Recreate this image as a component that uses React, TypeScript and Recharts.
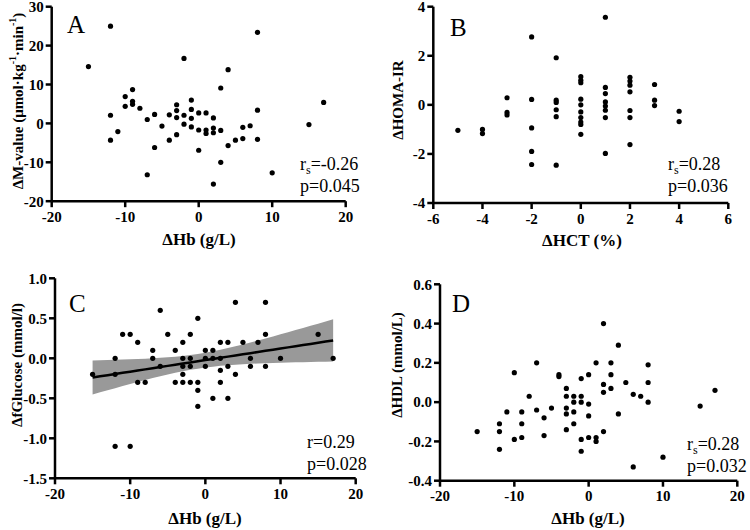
import React from 'react'
import { ScatterChart, ComposedChart, Scatter, Line, Area, XAxis, YAxis } from 'recharts'

const FONT = '"Liberation Serif", "Times New Roman", serif'
const CELL_W = 375
const CELL_H = 265
const X_AXIS_H = 40

// A: ΔHb (g/L) vs ΔM-value
const hbA = [-12, -15, -2, 8, 4, -9, -10, -9, -9, -10, -8, -12, -11, -12, -7, -6, -5, -4, -3, -3, -3, -2, -2, -1, -1, -1, -1, 0, 0, 1, 1, 1, 2, 2, 2, 3, 3, 3, -4, -3, -6, -7, 0, 2, 4, 5, 6, 6, 7, 8, 8, 10, 15, 17]
const mValueA = [25, 14.6, 16.7, 23.4, 13.8, 8.7, 6.9, 5.7, 4.9, 4.4, 3.9, 2.1, -2.1, -4.3, 1.0, 2.3, -0.7, 2.2, 4.8, 3.3, 1.5, 2.1, -0.2, 6.0, 3.6, 1.3, -0.9, 2.7, -1.7, 2.7, -1.7, -2.6, 1.4, -1.2, -2.4, 9.1, -1.8, -10, -4.3, -2.9, -6.2, -13.2, -6.9, -15.6, -5.7, -4.3, -3.9, -1.0, -0.6, 3.4, -4.1, -12.7, -0.3, 5.4]

// B: ΔHCT (%) vs ΔHOMA-IR
const hctB = [-5, -4, -4, -3, -3, -3, -2, -2, -2, -2, -2, -1, -1, -1, -1, -1, -1, 0, 0, 0, 0, 0, 0, 0, 0, 0, 0, 1, 1, 1, 1, 1, 1, 1, 1, 2, 2, 2, 2, 2, 2, 2, 3, 3, 3, 4, 4]
const homaB = [-1.04, -1.0, -1.17, 0.29, -0.31, -0.41, 2.77, 0.22, -0.94, -1.9, -2.43, 1.92, 0.19, 0.1, -0.2, -0.48, -2.46, 1.15, 1.0, 0.9, 0.23, 0, -0.29, -0.52, -0.7, -1.2, -0.8, 3.57, 0.71, 0.46, 0.12, -0.05, -0.22, -0.52, -1.98, 1.12, 0.97, 0.8, 0.53, -0.23, -0.52, -1.62, 0.83, 0.19, -0.03, -0.26, -0.68]

// C: ΔHb (g/L) vs ΔfGlucose
const hbC = [-15, -12, -12, -12, -10, -11, -10, -9, -9, -8, -7, -7, -6, -6, -5, -4, -4, -3, -3, -3, -3, -3, -2, -2, -2, -2, -1, -1, -1, -1, 0, 0, 0, 1, 1, 1, 2, 2, 2, 2, 3, 3, 3, 4, 4, 5, 6, 6, 7, 8, 8, 8, 10, 15, 17]
const glucoseC = [-0.2, 0, -0.2, -1.1, -1.1, 0.3, 0.3, 0.2, -0.3, -0.3, 0.1, 0, 0.6, -0.1, 0.3, 0.1, -0.3, 0.2, 0, -0.1, -0.2, -0.3, 0.3, 0, -0.1, -0.3, 0.5, -0.3, -0.4, -0.6, 0.1, 0, -0.1, 0.1, 0, -0.5, 0.2, 0, -0.15, -0.3, 0.2, -0.1, -0.5, 0.7, -0.2, 0.2, 0, -0.1, 0.2, 0.7, 0.3, -0.1, 0, 0.3, 0]

// D: ΔHb (g/L) vs ΔHDL
const hbD = [-15, -12, -12, -12, -11, -10, -10, -9, -9, -9, -8, -7, -7, -6, -6, -5, -4, -4, -3, -3, -3, -3, -3, -2, -2, -2, -2, -1, -1, -1, -1, -1, 0, 0, 0, 0, 1, 1, 1, 2, 2, 2, 2, 3, 3, 3, 4, 4, 5, 6, 6, 7, 8, 8, 8, 10, 15, 17]
const hdlD = [-0.15, -0.11, -0.15, -0.24, -0.05, 0.15, -0.19, -0.05, -0.11, -0.18, 0.03, 0.2, -0.04, -0.08, -0.17, -0.03, 0.14, 0.13, 0.07, 0.03, -0.03, -0.06, -0.14, 0.03, 0, -0.05, -0.11, 0.12, 0.03, 0, -0.19, -0.25, 0.14, -0.01, -0.07, -0.18, 0.2, -0.18, -0.2, 0.4, 0.09, 0.05, -0.15, 0.2, 0.14, 0.07, 0.29, -0.06, 0.1, 0.04, -0.33, 0.03, 0.19, 0.1, 0, -0.28, -0.02, 0.06]

const hbTicks = [-20, -10, 0, 10, 20]
const hctTicks = [-6, -4, -2, 0, 2, 4, 6]
const mValueTicks = [-20, -10, 0, 10, 20, 30]
const homaTicks = [-4, -2, 0, 2, 4]
const glucoseTicks = [-1.5, -1.0, -0.5, 0, 0.5, 1.0]
const hdlTicks = [-0.4, -0.2, 0, 0.2, 0.4, 0.6]

const toPoints = (xs: number[], ys: number[]) => xs.map((x, i) => ({ x, y: ys[i] }))

// least squares line with 95% confidence band of the mean
function fitRows(xs: number[], ys: number[]) {
  const n = xs.length
  const mx = xs.reduce((s, v) => s + v, 0) / n
  const my = ys.reduce((s, v) => s + v, 0) / n
  let sxx = 0
  let sxy = 0
  xs.forEach((x, i) => {
    sxx += (x - mx) ** 2
    sxy += (x - mx) * (ys[i] - my)
  })
  const b = sxy / sxx
  const a = my - b * mx
  const sse = xs.reduce((s, x, i) => s + (ys[i] - a - b * x) ** 2, 0)
  const se = Math.sqrt(sse / (n - 2))
  const t = 2.006
  const lo = Math.min(...xs)
  const hi = Math.max(...xs)
  const rows = []
  for (let x = lo; x <= hi; x += 1) {
    const fit = a + b * x
    const half = t * se * Math.sqrt(1 / n + (x - mx) ** 2 / sxx)
    rows.push({ x, fit, band: [fit - half, fit + half] })
  }
  return rows
}

type Seg = [string, boolean?]

interface PanelProps {
  left: number
  top: number
  plot: { left: number; top: number; width: number; height: number }
  xDomain: [number, number]
  xTicks: number[]
  yDomain: [number, number]
  yTicks: number[]
  yDigits: number
  points: { x: number; y: number }[]
  fit?: ReturnType<typeof fitRows>
  letter: string
  letterAt: [number, number]
  yTitle: Seg[]
  yTitleAt: [number, number]
  xTitle: string
  xTitleAt: [number, number]
  stat: string
  sub: boolean
  p: string
  statAt: [number, number]
}

const dot = (props: any) => <circle cx={props.cx} cy={props.cy} r={2.6} fill="#000" />

function Panel(pr: PanelProps) {
  const { plot } = pr
  const margin = {
    top: plot.top,
    left: 0,
    right: CELL_W - plot.left - plot.width,
    bottom: CELL_H - plot.top - plot.height - X_AXIS_H,
  }
  const Chart: any = pr.fit ? ComposedChart : ScatterChart
  const axisLine = { stroke: '#000', strokeWidth: 2.5 }
  const tickStyle = { fill: '#000', fontSize: 15, fontWeight: 'bold', fontFamily: FONT }
  const [ycx, ycy] = pr.yTitleAt
  return (
    <div style={{ position: 'absolute', left: pr.left, top: pr.top }}>
      <Chart width={CELL_W} height={CELL_H} margin={margin} data={pr.fit}>
        <XAxis
          type="number"
          dataKey="x"
          domain={pr.xDomain}
          ticks={pr.xTicks}
          height={X_AXIS_H}
          axisLine={axisLine}
          tickLine={axisLine}
          tickSize={6}
          tickMargin={4}
          tick={tickStyle}
          interval={0}
        />
        <YAxis
          type="number"
          dataKey="y"
          domain={pr.yDomain}
          ticks={pr.yTicks}
          width={plot.left}
          axisLine={axisLine}
          tickLine={axisLine}
          tickSize={6}
          tickMargin={2}
          tick={tickStyle}
          interval={0}
          tickFormatter={(v: number) => v.toFixed(pr.yDigits)}
        />
        {pr.fit && (
          <Area
            dataKey="band"
            type="linear"
            stroke="none"
            fill="#999999"
            fillOpacity={1}
            isAnimationActive={false}
          />
        )}
        {pr.fit && (
          <Line dataKey="fit" type="linear" stroke="#000" strokeWidth={2.5} dot={false} isAnimationActive={false} />
        )}
        <Scatter data={pr.points} dataKey="y" shape={dot} isAnimationActive={false} />
        <text x={pr.letterAt[0]} y={pr.letterAt[1]} fontSize={25} fontFamily={FONT} fill="#000">
          {pr.letter}
        </text>
        <text
          x={ycx}
          y={ycy}
          transform={`rotate(-90 ${ycx} ${ycy})`}
          textAnchor="middle"
          dominantBaseline="central"
          fontSize={15}
          fontWeight="bold"
          fontFamily={FONT}
          fill="#000"
        >
          {pr.yTitle.map(([s, sup], i) =>
            sup ? (
              <tspan key={i} fontSize={10} dy={-6}>{s}</tspan>
            ) : (
              <tspan key={i} dy={i > 0 && pr.yTitle[i - 1][1] ? 6 : 0}>{s}</tspan>
            )
          )}
        </text>
        <text
          x={pr.xTitleAt[0]}
          y={pr.xTitleAt[1]}
          textAnchor="middle"
          fontSize={17}
          fontWeight="bold"
          fontFamily={FONT}
          fill="#000"
        >
          {pr.xTitle}
        </text>
        <text x={pr.statAt[0]} y={pr.statAt[1]} fontSize={18} fontFamily={FONT} fill="#000">
          r
          {pr.sub && <tspan fontSize={12} dy={4}>s</tspan>}
          <tspan dy={pr.sub ? -4 : 0}>={pr.stat}</tspan>
        </text>
        <text x={pr.statAt[0]} y={pr.statAt[1] + 22} fontSize={18} fontFamily={FONT} fill="#000">
          p={pr.p}
        </text>
      </Chart>
    </div>
  )
}

export default function App() {
  const cFit = fitRows(hbC, glucoseC)
  return (
    <div style={{ position: 'absolute', left: 0, top: 0, width: 750, height: 530, background: '#fff' }}>
      <Panel
        left={0}
        top={0}
        plot={{ left: 51.7, top: 6.7, width: 294, height: 194.5 }}
        xDomain={[-20, 20]}
        xTicks={hbTicks}
        yDomain={[-20, 30]}
        yTicks={mValueTicks}
        yDigits={0}
        points={toPoints(hbA, mValueA)}
        letter="A"
        letterAt={[67, 33]}
        yTitle={[['ΔM-value (μmol·kg'], ['-1', true], ['·min'], ['-1', true], [')']]}
        yTitleAt={[18, 101]}
        xTitle="ΔHb (g/L)"
        xTitleAt={[199, 245]}
        stat="-0.26"
        sub
        p="0.045"
        statAt={[300, 170]}
      />
      <Panel
        left={375}
        top={0}
        plot={{ left: 58.3, top: 6.7, width: 295, height: 196.3 }}
        xDomain={[-6, 6]}
        xTicks={hctTicks}
        yDomain={[-4, 4]}
        yTicks={homaTicks}
        yDigits={0}
        points={toPoints(hctB, homaB)}
        letter="B"
        letterAt={[75, 36]}
        yTitle={[['ΔHOMA-IR']]}
        yTitleAt={[23, 100]}
        xTitle="ΔHCT (%)"
        xTitleAt={[207, 246]}
        stat="0.28"
        sub
        p="0.036"
        statAt={[293, 170]}
      />
      <Panel
        left={0}
        top={265}
        plot={{ left: 55, top: 13.3, width: 300.7, height: 200 }}
        xDomain={[-20, 20]}
        xTicks={hbTicks}
        yDomain={[-1.5, 1.0]}
        yTicks={glucoseTicks}
        yDigits={1}
        points={toPoints(hbC, glucoseC)}
        fit={cFit}
        letter="C"
        letterAt={[69, 47]}
        yTitle={[['ΔfGlucose (mmol/l)']]}
        yTitleAt={[17, 100]}
        xTitle="ΔHb (g/L)"
        xTitleAt={[205, 259]}
        stat="0.29"
        sub={false}
        p="0.028"
        statAt={[307, 183]}
      />
      <Panel
        left={375}
        top={265}
        plot={{ left: 65, top: 19.3, width: 297.3, height: 196.4 }}
        xDomain={[-20, 20]}
        xTicks={hbTicks}
        yDomain={[-0.4, 0.6]}
        yTicks={hdlTicks}
        yDigits={1}
        points={toPoints(hbD, hdlD)}
        letter="D"
        letterAt={[77, 47]}
        yTitle={[['ΔHDL (mmol/L)']]}
        yTitleAt={[22, 100]}
        xTitle="ΔHb (g/L)"
        xTitleAt={[213, 259]}
        stat="0.28"
        sub
        p="0.032"
        statAt={[312, 185]}
      />
    </div>
  )
}
